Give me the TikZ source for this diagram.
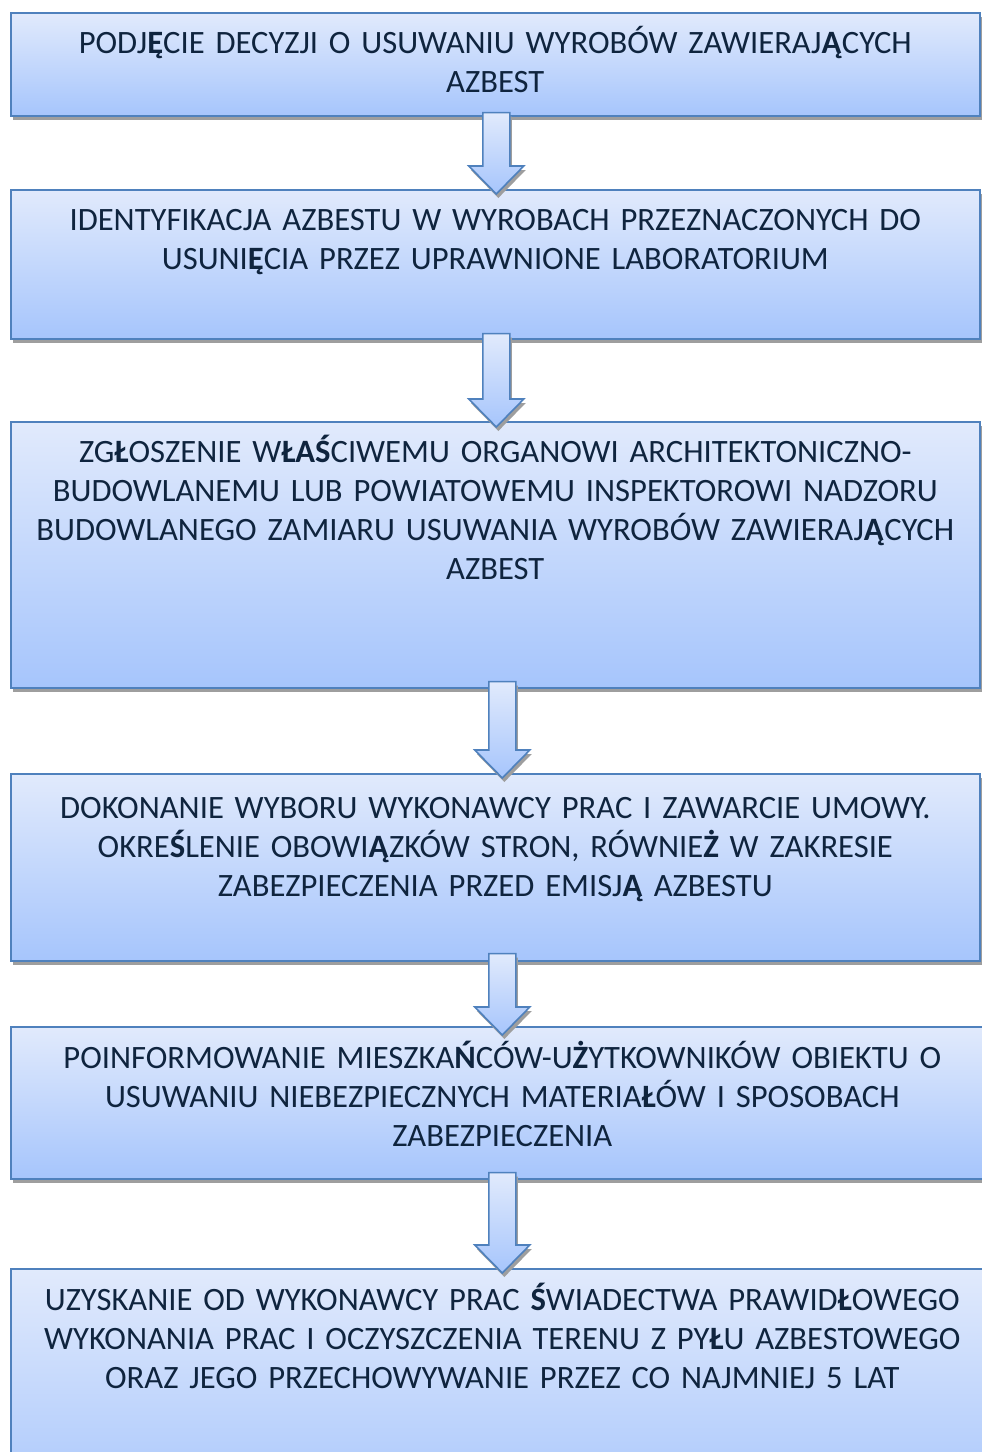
\documentclass[tikz,border=0pt]{standalone}
\usepackage{fontspec}
\setmainfont{Carlito}
\usetikzlibrary{calc,shadows}
\definecolor{jasny}{HTML}{E1EAFC}
\definecolor{ciemny}{HTML}{A6C5FC}
\definecolor{ramka}{HTML}{4F81BD}
\definecolor{napis}{HTML}{0F243E}
\tikzset{
  cien/.style={drop shadow={shadow xshift=2pt,shadow yshift=-4pt,fill=black!38,opacity=1}},
  krok/.style={draw=ramka,line width=1.6pt,top color=jasny,bottom color=ciemny,
    minimum width=969pt,anchor=north west,inner sep=0pt,cien},
  tekst/.style={text=napis,text width=960pt,align=center,anchor=base,inner sep=0pt,
    font=\fontsize{32.6}{39}\selectfont},
  strzalka/.style={draw=ramka,line width=1.6pt,top color=jasny,bottom color=ciemny,
    line join=miter,cien}
}
\newcommand{\pl}[1]{\textbf{#1}}
\newcommand{\strz}[2]{\draw[strzalka] let \p1=(#1), \p2=(#2) in
  (\x1-13.5,\y1) -- (\x1+13.5,\y1) -- (\x1+13.5,\y2+28) -- (\x1+27.5,\y2+28)
  -- (\x1,\y2) -- (\x1-27.5,\y2+28) -- (\x1-13.5,\y2+28) -- cycle;}
\begin{document}
\begin{tikzpicture}[x=1pt,y=1pt]
\useasboundingbox (0,0) rectangle (982,-1452);
\clip (0,0) rectangle (982,-1452);
\fill[white] (0,0) rectangle (982,-1452);

% kroki
\node[krok,minimum height=103pt] (k1) at (10,-12) {};
\node[krok,minimum height=149pt] (k2) at (10,-189) {};
\node[krok,minimum height=266pt] (k3) at (10,-421) {};
\node[krok,minimum height=187pt] (k4) at (10,-773) {};
\node[krok,minimum height=152pt,minimum width=983pt] (k5) at (10,-1026) {};
\node[krok,minimum height=250pt,minimum width=983pt] (k6) at (10,-1268) {};

% napisy
\node[tekst] (t1) at ($(k1.north)+(0,-41.5)$) {PODJ\pl{Ę}CIE DECYZJI O USUWANIU WYROBÓW ZAWIERAJ\pl{Ą}CYCH\\AZBEST};
\node[tekst] (t2) at ($(k2.north)+(0,-41.5)$) {IDENTYFIKACJA AZBESTU W WYROBACH PRZEZNACZONYCH DO\\USUNI\pl{Ę}CIA PRZEZ UPRAWNIONE LABORATORIUM};
\node[tekst] (t3) at ($(k3.north)+(0,-41.5)$) {ZG\pl{Ł}OSZENIE W\pl{ŁAŚ}CIWEMU ORGANOWI ARCHITEKTONICZNO-\\BUDOWLANEMU LUB POWIATOWEMU INSPEKTOROWI NADZORU\\BUDOWLANEGO ZAMIARU USUWANIA WYROBÓW ZAWIERAJ\pl{Ą}CYCH\\AZBEST};
\node[tekst] (t4) at ($(k4.north)+(0,-45.5)$) {DOKONANIE WYBORU WYKONAWCY PRAC I ZAWARCIE UMOWY.\\OKRE\pl{Ś}LENIE OBOWI\pl{Ą}ZKÓW STRON, RÓWNIE\pl{Ż} W ZAKRESIE\\ZABEZPIECZENIA PRZED EMISJ\pl{Ą} AZBESTU};
\node[tekst] (t5) at ($(k5.north)+(0,-42.5)$) {POINFORMOWANIE MIESZKA\pl{Ń}CÓW-U\pl{Ż}YTKOWNIKÓW OBIEKTU O\\USUWANIU NIEBEZPIECZNYCH MATERIA\pl{Ł}ÓW I SPOSOBACH\\ZABEZPIECZENIA};
\node[tekst] (t6) at ($(k6.north)+(0,-42.5)$) {UZYSKANIE OD WYKONAWCY PRAC \pl{Ś}WIADECTWA PRAWID\pl{Ł}OWEGO\\WYKONANIA PRAC I OCZYSZCZENIA TERENU Z PY\pl{Ł}U AZBESTOWEGO\\ORAZ JEGO PRZECHOWYWANIE PRZEZ CO NAJMNIEJ 5 LAT};

% strzalki
\coordinate (s1) at ($(k1.south)+(1,4)$);
\coordinate (e1) at ($(k2.north)+(1,-5)$);
\coordinate (s2) at ($(k2.south)+(1,6)$);
\coordinate (e2) at ($(k3.north)+(1,-6)$);
\coordinate (s3) at ($(k3.south)+(7,7)$);
\coordinate (e3) at ($(k4.north)+(7,-5)$);
\coordinate (s4) at ($(k4.south)+(7,8)$);
\coordinate (e4) at ($(k5.north)+(0,-9)$);
\coordinate (s5) at ($(k5.south)+(0,7)$);
\coordinate (e5) at ($(k6.north)+(0,-5)$);
\strz{s1}{e1}
\strz{s2}{e2}
\strz{s3}{e3}
\strz{s4}{e4}
\strz{s5}{e5}
\end{tikzpicture}
\end{document}
